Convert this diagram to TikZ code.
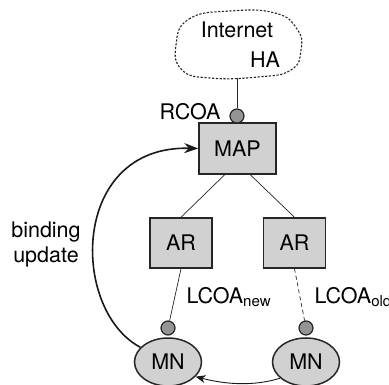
\documentclass[tikz,border=0pt]{standalone}
\usepackage{fontspec}
\setmainfont{TeX Gyre Heros}
\usetikzlibrary{shapes.geometric,arrows.meta,positioning,calc}

\begin{document}
\begin{tikzpicture}[
    x=1pt, y=-1pt,
    font=\fontsize{21.5}{25}\selectfont,
    nodebox/.style={draw=black!85, fill=black!18, line width=1.5pt, minimum width=62pt, minimum height=50pt, inner sep=0pt},
    mnode/.style={ellipse, draw=black!85, fill=black!18, line width=1.5pt, minimum width=67pt, minimum height=48pt, inner sep=0pt},
    addrdot/.style={circle, draw=black!85, fill=black!42, line width=1.2pt, minimum size=14pt, inner sep=0pt},
    link/.style={draw=black!85, line width=0.7pt},
    oldlink/.style={link, dash pattern=on 4pt off 3pt},
    bindarrow/.style={-{Stealth[length=14pt, width=10pt]}, line width=1.6pt, draw=black!90},
    movearrow/.style={-{Stealth[length=10pt, width=8pt]}, line width=0.9pt, draw=black!90}
]
    \useasboundingbox (0,0) rectangle (389,385);

    % Internet cloud
    \draw[draw=black!85, line width=1.1pt, dash pattern=on 2.2pt off 1.6pt]
        plot[smooth cycle, tension=0.8] coordinates {(176,45) (189,19) (230,11) (275,13) (297,29) (301,50) (291,70) (258,77) (210,78) (182,70)};
    \node (internet) at (237,30) {Internet};
    \node (ha) at (265,60) {HA};
    \coordinate (cloudbot) at (237,78);

    % Mobility anchor point
    \node[nodebox, minimum width=77pt, minimum height=51pt] (map) at (237.5,148.5) {MAP};
    \node[addrdot] (rcoadot) at (237,116) {};
    \node[anchor=east] (rcoa) at (224,112) {RCOA};

    % Access routers
    \node[nodebox] (arnew) at (181,243) {AR};
    \node[nodebox] (arold) at (294.5,243) {AR};

    % Mobile node (new and old position)
    \node[mnode] (mnnew) at (168,362) {MN};
    \node[mnode] (mnold) at (306,362) {MN};
    \node[addrdot] (newdot) at (168,328) {};
    \node[addrdot] (olddot) at (306,328) {};

    \node[anchor=west] (lcoanew) at (183,297) {LCOA\textsubscript{new}};
    \node[anchor=west] (lcoaold) at (311,297) {LCOA\textsubscript{old}};
    \node[align=center] (binding) at (46,245) {binding\\update};

    % Links
    \draw[link] (cloudbot) -- (rcoadot);
    \draw[link] (map.244) -- (arnew.north);
    \draw[link] (map.296) -- (arold.north);
    \draw[link] (arnew.south) -- (newdot);
    \draw[oldlink] (arold.south) -- (olddot);

    % Binding update and movement
    \draw[bindarrow] (mnnew.152) .. controls (70,310) and (70,145) .. (map.west);
    \draw[movearrow] (mnold.212) .. controls (255,386) and (228,385) .. (mnnew.332);

\end{tikzpicture}
\end{document}
